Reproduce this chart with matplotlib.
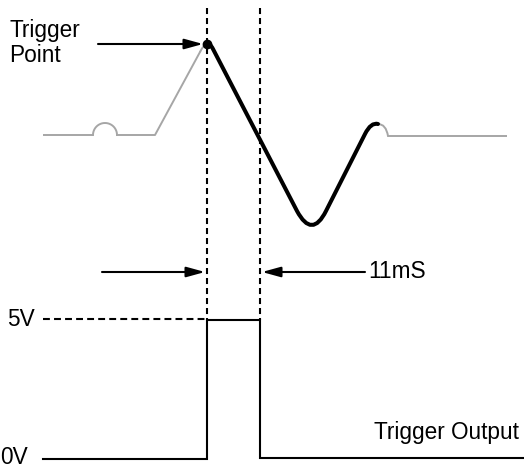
import numpy as np
import matplotlib
matplotlib.use("Agg")
import matplotlib.pyplot as plt
from matplotlib.path import Path
from matplotlib.patches import PathPatch

# diagram works in pixel space of the original picture (x right, y down)
W, H = 524, 467

# grey input waveform, left part (before trigger)
grey_left_x = [43, 93, 117, 155, 200]
grey_left_y = [135, 135, 135, 135, 52]
bump_center = (105, 135)
bump_radius = 12

# trigger point
trig_x, trig_y = 207, 44
end_x = 260  # end of 11mS pulse

# black captured waveform: start, descent, bottom, rise, top
black_pts = [(207, 44), (210, 43), (213, 49), (297, 211), (312, 239),
             (326, 211), (365, 134), (371, 122), (378, 124)]
# grey tail after capture
grey_tail = [(378, 124), (386, 124), (388, 136), (507, 136)]

# output pulse
pulse_x = [43, 207, 207, 260, 260, 524]
pulse_y = [459, 459, 320, 320, 458, 458]
level_5v, level_0v = 319, 459
arrow_y = 272

fig = plt.figure(figsize=(5.24, 4.67), dpi=100)
ax = fig.add_axes([0, 0, 1, 1])
ax.set_xlim(0, W)
ax.set_ylim(H, 0)
ax.axis("off")

font = dict(family="Liberation Sans", size=16.3, color="black")
grey = "#a6a6a6"

# grey left waveform with a small bump
ax.plot(grey_left_x[:2], grey_left_y[:2], color=grey, lw=1.4, solid_capstyle="butt")
t = np.linspace(np.pi, 0, 40)
ax.plot(bump_center[0] + bump_radius * np.cos(t), bump_center[1] - bump_radius * np.sin(t),
        color=grey, lw=1.4)
ax.plot(grey_left_x[2:], grey_left_y[2:], color=grey, lw=1.4)
gp = Path([(grey_left_x[-1], grey_left_y[-1]), (204, 44), (trig_x, trig_y)],
          [Path.MOVETO, Path.CURVE3, Path.CURVE3])
ax.add_patch(PathPatch(gp, fill=False, edgecolor=grey, lw=1.4))

# grey tail
tp = Path(grey_tail, [Path.MOVETO, Path.CURVE3, Path.CURVE3, Path.LINETO])
ax.add_patch(PathPatch(tp, fill=False, edgecolor=grey, lw=1.4))

# black waveform
codes = [Path.MOVETO, Path.CURVE3, Path.CURVE3, Path.LINETO, Path.CURVE3, Path.CURVE3,
         Path.LINETO, Path.CURVE3, Path.CURVE3]
bp = Path(black_pts, codes)
ax.add_patch(PathPatch(bp, fill=False, edgecolor="black", lw=2.9, capstyle="round",
                       joinstyle="round"))
ax.plot(trig_x, trig_y, "o", color="black", ms=6, zorder=5)

# dashed verticals
for xv in (trig_x, end_x):
    ax.plot([xv, xv], [8, 320], color="black", lw=1.5, dashes=(2.9, 1.9))

# 5V dashed level
ax.plot([43, trig_x], [level_5v, level_5v], color="black", lw=1.5, dashes=(3.3, 2.0))

# output pulse
ax.plot(pulse_x, pulse_y, color="black", lw=1.5, solid_joinstyle="miter")

# arrows
aprops = dict(arrowstyle="-|>,head_length=0.8,head_width=0.22", lw=1.5, color="black",
              mutation_scale=14, shrinkA=0, shrinkB=0)
ax.annotate("", xy=(203, trig_y), xytext=(98, trig_y), arrowprops=aprops)
ax.annotate("", xy=(205, arrow_y), xytext=(102, arrow_y), arrowprops=aprops)
ax.annotate("", xy=(262, arrow_y), xytext=(365, arrow_y), arrowprops=aprops)

# labels
ax.text(9, 43, "Trigger\nPoint", ha="left", va="center", linespacing=1.1, **font)
ax.text(368, arrow_y, "11mS", ha="left", va="center", **font)
ax.text(7, level_5v + 1, "5V", ha="left", va="center", **font)
ax.text(0, level_0v - 2, "0V", ha="left", va="center", **font)
ax.text(374, 433, "Trigger Output", ha="left", va="center", **font)

fig.savefig("out.png", dpi=100)
